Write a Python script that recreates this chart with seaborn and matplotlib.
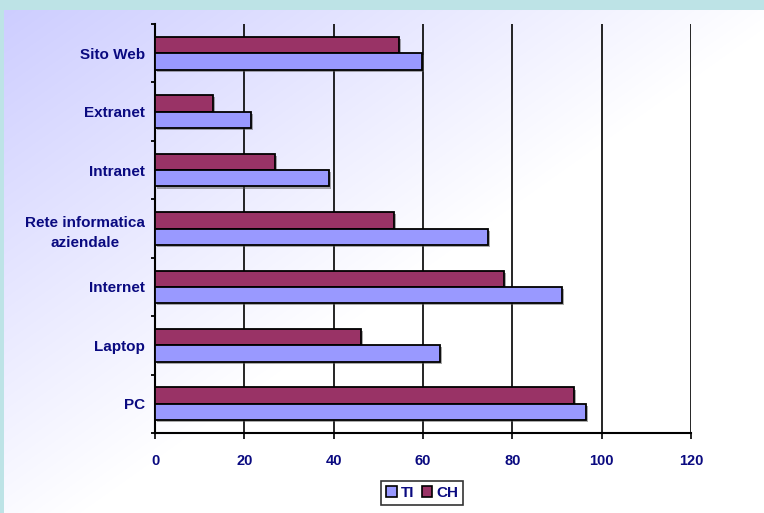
import numpy as np
import pandas as pd
import matplotlib
matplotlib.use("Agg")
import matplotlib.pyplot as plt
import matplotlib.patheffects as pe
from matplotlib.patches import Patch, Rectangle
import seaborn as sns

categories = ["Sito Web", "Extranet", "Intranet", "Rete informatica\naziendale",
              "Internet", "Laptop", "PC"]
ti_values = [59.7, 21.5, 39.0, 74.5, 91.1, 63.7, 96.5]
ch_values = [54.7, 13.0, 26.9, 53.4, 78.1, 46.2, 93.8]
x_ticks = [0, 20, 40, 60, 80, 100, 120]

df = pd.concat([
    pd.DataFrame({"cat": categories, "val": ch_values, "serie": "CH"}),
    pd.DataFrame({"cat": categories, "val": ti_values, "serie": "TI"}),
])

sns.set_theme(style="white")
plt.rcParams["font.family"] = ["Liberation Sans", "DejaVu Sans"]
plt.rcParams["font.weight"] = "bold"

navy = "#0A0A80"
c_ti = "#9999FF"
c_ch = "#993366"

fig = plt.figure(figsize=(7.64, 5.13), dpi=100)

# background: diagonal lavender-to-white gradient with a cyan frame
bg = fig.add_axes([0, 0, 1, 1], zorder=-10)
W, H = 764, 513
xx, yy = np.meshgrid(np.linspace(0, 1, W), np.linspace(0, 1, H))
t = np.clip(xx * 0.95 + yy * 0.9, 0, 1)
c0 = np.array([0.80, 0.80, 1.0])
c1 = np.array([1.0, 1.0, 1.0])
img = c0[None, None, :] * (1 - t[..., None]) + c1[None, None, :] * t[..., None]
bg.imshow(img, aspect="auto", extent=[0, 1, 0, 1], origin="upper")
bg.add_patch(Rectangle((0, 1 - 10 / 513), 1, 10 / 513, color="#BDE3E6", lw=0))
bg.add_patch(Rectangle((0, 0), 4 / 764, 1, color="#BDE3E6", lw=0))
bg.set_xlim(0, 1)
bg.set_ylim(0, 1)
bg.axis("off")

ax = fig.add_axes([155 / 764, 1 - 433 / 513, 536 / 764, 409 / 513])
ax.set_facecolor("none")

sns.barplot(data=df, y="cat", x="val", hue="serie", hue_order=["CH", "TI"],
            palette={"CH": c_ch, "TI": c_ti}, orient="h", width=0.56,
            edgecolor="black", linewidth=1.3, saturation=1, ax=ax,
            legend=False, zorder=3)

for p in ax.patches:
    p.set_path_effects([pe.SimplePatchShadow(offset=(1.5, -1.5), shadow_rgbFace="#555555", alpha=0.5),
                        pe.Normal()])

ax.set_xlim(0, 120)
ax.set_ylim(6.5, -0.5)
ax.set_xticks(x_ticks)
ax.set_xticklabels([str(v) for v in x_ticks])
ax.set_yticks(range(len(categories)))
ax.set_yticklabels(categories)
ax.set_yticks(np.arange(-0.5, len(categories), 1), minor=True)
ax.tick_params(axis="y", which="major", length=0, pad=7, labelsize=11, labelcolor=navy)
ax.tick_params(axis="y", which="minor", length=3, width=1.3, color="black", direction="out", left=True)
ax.tick_params(axis="x", length=4, width=1.2, color="black", direction="out", bottom=True,
               pad=11, labelsize=10.5, labelcolor=navy)
for lab in ax.get_yticklabels():
    lab.set_multialignment("center")
    lab.set_linespacing(1.55)
    lab.set_fontweight("bold")
for lab in ax.get_xticklabels():
    lab.set_fontweight("bold")

ax.xaxis.grid(True, color="black", linewidth=1.2, zorder=1)
ax.set_axisbelow(True)
for s in ["top", "right"]:
    ax.spines[s].set_visible(False)
for s in ["left", "bottom"]:
    ax.spines[s].set_color("black")
    ax.spines[s].set_linewidth(1.5)
ax.set_xlabel("")
ax.set_ylabel("")

handles = [Patch(facecolor=c_ti, edgecolor="black", linewidth=1.2, label="TI"),
           Patch(facecolor=c_ch, edgecolor="black", linewidth=1.2, label="CH")]
leg = fig.legend(handles=handles, loc="center", bbox_to_anchor=(422 / 764, 1 - 493 / 513),
                 ncol=2, frameon=True, fancybox=False, handlelength=0.7, handleheight=0.7,
                 handletextpad=0.25, columnspacing=0.5, borderpad=0.3,
                 prop={"weight": "bold", "size": 11})
leg.get_frame().set_edgecolor("black")
leg.get_frame().set_linewidth(1.2)
leg.get_frame().set_facecolor("white")
for t_ in leg.get_texts():
    t_.set_color(navy)

fig.savefig("out.png", dpi=100)
